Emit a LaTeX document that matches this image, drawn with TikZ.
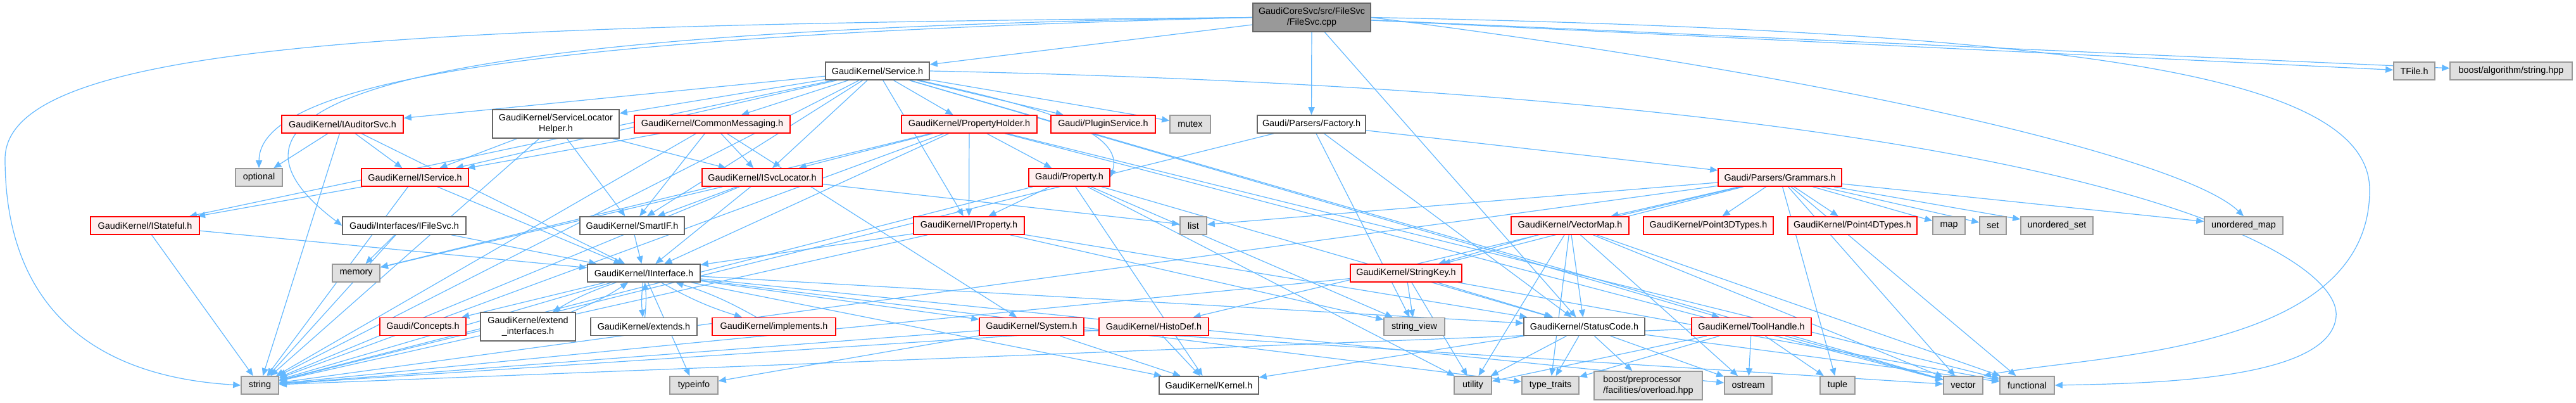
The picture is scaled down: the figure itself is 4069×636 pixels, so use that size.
\documentclass[tikz,border=0pt]{standalone}
\usepackage{fontspec}
\setmainfont{Liberation Sans}
\usetikzlibrary{arrows.meta,backgrounds}
\definecolor{edgeblue}{HTML}{63B8FF}
\definecolor{redfill}{HTML}{FFF0F0}
\definecolor{extfill}{HTML}{E0E0E0}
\definecolor{extline}{HTML}{999999}
\definecolor{normline}{HTML}{666666}
\definecolor{rootfill}{HTML}{999999}
\definecolor{redline}{HTML}{FF0000}
\begin{document}
\begin{tikzpicture}[x=0.5pt,y=-0.5pt,
  base/.style={draw, rectangle, inner sep=0pt, minimum height=14pt, font=\fontsize{7.2}{8.6}\selectfont, align=center, line width=0.8pt},
  redn/.style={base, draw=redline, fill=redfill},
  whn/.style={base, draw=normline, fill=white},
  extn/.style={base, draw=extline, fill=extfill},
  rootn/.style={base, draw=normline, fill=rootfill},
  edge/.style={draw=edgeblue, line width=0.6pt, -{Triangle[length=6pt,width=5pt]}}]
\useasboundingbox (0,0) rectangle (4069,636);
% row 0
\node[rootn, minimum width=93pt, minimum height=22.5pt] (root) at (2072,27.5) {GaudiCoreSvc/src/FileSvc\\/FileSvc.cpp};
% row 1
\node[whn, minimum width=82pt] (svc) at (1386,112) {GaudiKernel/Service.h};
\node[extn, minimum width=32.5pt] (tfile) at (3813.5,112) {TFile.h};
\node[extn, minimum width=96.5pt] (balg) at (3966.5,112) {boost/algorithm/string.hpp};
% row 2
\node[redn, minimum width=96pt] (iaud) at (541,196) {GaudiKernel/IAuditorSvc.h};
\node[whn, minimum width=100pt, minimum height=22.5pt] (slh) at (878,195.5) {GaudiKernel/ServiceLocator\\Helper.h};
\node[redn, minimum width=123pt] (cmsg) at (1125,196) {GaudiKernel/CommonMessaging.h};
\node[redn, minimum width=107pt] (phold) at (1531,196) {GaudiKernel/PropertyHolder.h};
\node[redn, minimum width=82.5pt] (plug) at (1742.5,196) {Gaudi/PluginService.h};
\node[extn, minimum width=32pt] (mutex) at (1880,196) {mutex};
\node[whn, minimum width=85.5pt] (fact) at (2071.5,196) {Gaudi/Parsers/Factory.h};
% row 3
\node[extn, minimum width=37pt] (opt) at (409,280) {optional};
\node[redn, minimum width=84.5pt] (isvc) at (655.5,280) {GaudiKernel/IService.h};
\node[redn, minimum width=95pt] (isl) at (1204,280) {GaudiKernel/ISvcLocator.h};
\node[redn, minimum width=64pt] (prop) at (1689,280) {Gaudi/Property.h};
\node[redn, minimum width=97.5pt] (gram) at (2811.5,280) {Gaudi/Parsers/Grammars.h};
% row 4
\node[redn, minimum width=86pt] (istat) at (229,356) {GaudiKernel/IStateful.h};
\node[whn, minimum width=97.5pt] (ifile) at (638.5,356) {Gaudi/Interfaces/IFileSvc.h};
\node[whn, minimum width=82.5pt] (smart) at (998.5,356) {GaudiKernel/SmartIF.h};
\node[redn, minimum width=87.5pt] (iprop) at (1530.5,356) {GaudiKernel/IProperty.h};
\node[extn, minimum width=21pt] (list) at (1885,356) {list};
\node[redn, minimum width=93pt] (vmap) at (2480,356) {GaudiKernel/VectorMap.h};
\node[redn, minimum width=102.5pt] (p3d) at (2698.5,356) {GaudiKernel/Point3DTypes.h};
\node[redn, minimum width=102pt] (p4d) at (2926,356) {GaudiKernel/Point4DTypes.h};
\node[extn, minimum width=25.5pt] (map) at (3078.5,356) {map};
\node[extn, minimum width=21pt] (set) at (3148,356) {set};
\node[extn, minimum width=57pt] (uset) at (3249,356) {unordered\_set};
\node[extn, minimum width=62pt] (umap) at (3544,356) {unordered\_map};
% row 5
\node[extn, minimum width=37.5pt] (memory) at (562.5,431) {memory};
\node[whn, minimum width=89pt] (iint) at (1017,431) {GaudiKernel/IInterface.h};
\node[redn, minimum width=88pt] (skey) at (2221,431) {GaudiKernel/StringKey.h};
% row 6
\node[redn, minimum width=68pt] (conc) at (668,515.5) {Gaudi/Concepts.h};
\node[whn, minimum width=75pt, minimum height=22.5pt] (extif) at (834,515.5) {GaudiKernel/extend\\\_interfaces.h};
\node[whn, minimum width=84pt] (exts) at (1017,515.5) {GaudiKernel/extends.h};
\node[redn, minimum width=97.5pt] (impl) at (1222.5,515.5) {GaudiKernel/implements.h};
\node[redn, minimum width=82.5pt] (sys) at (1629.5,515.5) {GaudiKernel/System.h};
\node[redn, minimum width=86.5pt] (hdef) at (1822.5,515.5) {GaudiKernel/HistoDef.h};
\node[extn, minimum width=48pt] (sview) at (2234,515.5) {string\_view};
\node[whn, minimum width=95.5pt] (scode) at (2502.5,515.5) {GaudiKernel/StatusCode.h};
\node[redn, minimum width=94.5pt] (thand) at (2766.5,515.5) {GaudiKernel/ToolHandle.h};
% row 7
\node[extn, minimum width=29.5pt] (string) at (410.5,608) {string};
\node[extn, minimum width=38pt] (tinfo) at (1096,608) {typeinfo};
\node[whn, minimum width=78.5pt] (kernel) at (1909.5,608) {GaudiKernel/Kernel.h};
\node[extn, minimum width=29.5pt] (util) at (2326.5,608) {utility};
\node[extn, minimum width=45pt] (ttraits) at (2449,608) {type\_traits};
\node[extn, minimum width=85.5pt, minimum height=22.5pt, align=left] (bpp) at (2603.5,608.5) {boost/preprocessor\\/facilities/overload.hpp};
\node[extn, minimum width=37.5pt] (ostream) at (2761.5,608) {ostream};
\node[extn, minimum width=27.5pt] (tuple) at (2902.5,608) {tuple};
\node[extn, minimum width=31pt] (vector) at (3101,608) {vector};
\node[extn, minimum width=43pt] (func) at (3202,608) {functional};

\begin{scope}[on background layer]
% curved long edges from the root
\draw[edge] (root.west) .. controls (700,40) and (10,60) .. (8,250) .. controls (8,560) and (250,600) .. (string.west);
\draw[edge] (root.west) .. controls (800,45) and (240,130) .. (ifile.west);
\draw[edge] (root.west) .. controls (900,55) and (410,120) .. (opt.north);
\draw[edge] (root.east) .. controls (3300,50) and (3743,120) .. (3743,300) .. controls (3743,560) and (3300,560) .. (vector.north east);
\draw[edge] (root.east) .. controls (2900,120) and (3450,250) .. (umap.north);
\draw[edge] (svc.east) .. controls (3300,150) and (3700,400) .. (3690,500) .. controls (3680,600) and (3400,605) .. (func.east);
\draw[edge] (svc) .. controls (1600,160) and (1780,200) .. (prop.east);
% straight edges
\foreach \a/\b in {root/svc, root/fact, root/tfile, root/balg, root/scode,
  svc/iaud, svc/isvc, svc/istat, svc/slh, svc/cmsg, svc/isl, svc/phold, svc/plug, svc/mutex,
  svc/iprop, svc/smart, svc/thand, svc/string, svc/vector,
  iaud/opt, iaud/isvc, iaud/string, iaud/iint,
  isvc/iint, isvc/istat, isvc/string,
  istat/iint, istat/string,
  slh/isvc, slh/string, slh/smart, slh/isl,
  cmsg/isvc, cmsg/isl, cmsg/smart, cmsg/string, cmsg/sys,
  isl/iint, isl/smart, isl/string, isl/list, isl/memory,
  phold/iprop, phold/prop, phold/isl, phold/iint, phold/string, phold/func, phold/vector, phold/memory,
  prop/iprop, prop/string, prop/kernel, prop/sview, prop/util, prop/scode,
  fact/gram, fact/sview, fact/scode, fact/string,
  gram/vmap, gram/p3d, gram/p4d, gram/map, gram/set, gram/uset, gram/umap, gram/list,
  gram/skey, gram/hdef, gram/vector, gram/tuple, gram/string, gram/func,
  vmap/skey, vmap/scode, vmap/ttraits, vmap/ostream, vmap/vector, vmap/func, vmap/util,
  skey/string, skey/sview, skey/scode, skey/util, skey/func,
  scode/kernel, scode/util, scode/ttraits, scode/bpp, scode/ostream, scode/func,
  thand/util, thand/ttraits, thand/ostream, thand/tuple, thand/vector, thand/string,
  hdef/kernel, hdef/string,
  sys/kernel, sys/string, sys/tinfo, sys/vector,
  iint/conc, iint/sys, iint/kernel, iint/scode, iint/string, iint/tinfo, iint/ostream, iint/ttraits,
  smart/iint,
  iprop/iint, iprop/string, iprop/scode, iprop/sview,
  ifile/iint, ifile/memory, ifile/string}
  \draw[edge] (\a) -- (\b);
% mutual includes
\draw[edge] (iint) to[bend right=6] (extif);
\draw[edge] (extif) to[bend right=6] (iint);
\draw[edge] (iint) to[bend right=6] (exts);
\draw[edge] (exts) to[bend right=6] (iint);
\draw[edge] (iint) to[bend right=6] (impl);
\draw[edge] (impl) to[bend right=6] (iint);
\end{scope}
\end{tikzpicture}
\end{document}
